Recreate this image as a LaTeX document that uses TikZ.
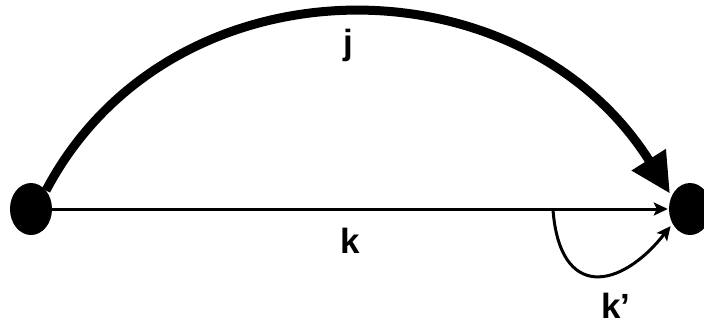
\documentclass[tikz,border=0pt]{standalone}
\usepackage{fontspec}
\setmainfont{Liberation Sans}
\usetikzlibrary{arrows.meta,shapes.geometric}
\begin{document}
\begin{tikzpicture}[x=1pt,y=-1pt,
  dot/.style={fill=black,shape=ellipse,minimum width=42pt,minimum height=52pt,inner sep=0pt},
  lbl/.style={font=\bfseries\fontsize{35}{38}\selectfont,anchor=base,inner sep=0pt},
  thin/.style={line width=3pt,-{Stealth[length=14pt,width=13pt,inset=3pt]}},
  thick/.style={line width=9pt,-{Triangle[length=40pt,width=38pt]}}]
\useasboundingbox (0,0) rectangle (704,325);
\node[dot] (a) at (31,209) {};
\node[dot] (b) at (690,209) {};
\coordinate (s) at (553,210);
\draw[thin,shorten >=1pt] (a.east) -- (b.west);
\draw[thick,shorten >=3pt] (a.north east) .. controls (170,-45) and (520,-45) .. (b.145);
\draw[thin,shorten >=3pt] (s) .. controls (560,300) and (620,290) .. (b.220);
\node[lbl] (j) at (348,54) {j};
\node[lbl] (k) at (350,253) {k};
\node[lbl] (kp) at (616,318) {k’};
\end{tikzpicture}
\end{document}
